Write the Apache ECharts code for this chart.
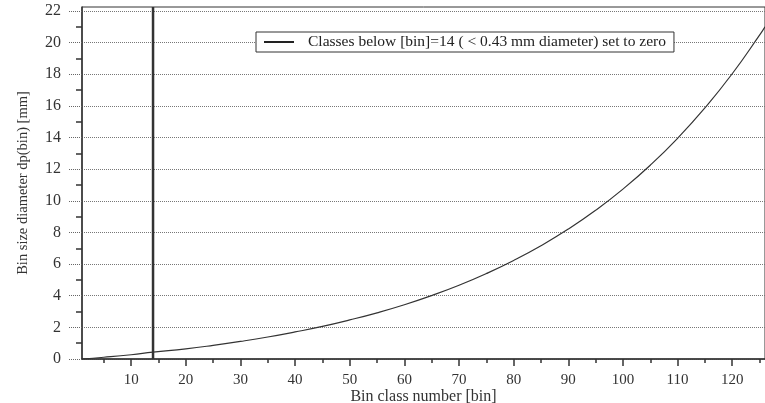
<!DOCTYPE html>
<html>
<head>
<meta charset="utf-8">
<script src="https://cdn.jsdelivr.net/npm/echarts@6/dist/echarts.min.js"></script>
<style>
  html, body { margin: 0; padding: 0; background: #fff; }
  #main { width: 765px; height: 403px; }
</style>
</head>
<body>
<div id="main"></div>
<script>
// bin class number and diameter
const bins = [1, 5, 10, 14, 20, 25, 30, 35, 40, 45, 50, 55, 60, 65, 70, 75, 80, 85, 90, 95, 100, 105, 110, 115, 120, 125, 126]
const diameters = [0.00, 0.11, 0.27, 0.43, 0.64, 0.86, 1.11, 1.39, 1.71, 2.06, 2.47, 2.92, 3.43, 4.01, 4.66, 5.40, 6.23, 7.16, 8.21, 9.40, 10.74, 12.25, 13.95, 15.87, 18.03, 20.47, 21.00]

// cut-off line
const cutoffBin = 14
const cutoffName = 'Classes below [bin]=14 ( < 0.43 mm diameter) set to zero'

// axis ticks
const xTicks = [10, 20, 30, 40, 50, 60, 70, 80, 90, 100, 110, 120]
const xMinorTicks = [5, 15, 25, 35, 45, 55, 65, 75, 85, 95, 105, 115, 125]
const yTicks = [0, 2, 4, 6, 8, 10, 12, 14, 16, 18, 20, 22]
const yMinorTicks = [1, 3, 5, 7, 9, 11, 13, 15, 17, 19, 21]
const xMin = 1, xMax = 126, yMin = 0, yMax = 22.25

const font = 'Liberation Serif'
const chart = echarts.init(document.getElementById('main'))

const curve = bins.map(function (b, i) { return [b, diameters[i]] })

chart.setOption({
  animation: false,
  grid: {
    left: 82, right: 0, top: 7, bottom: 44,
    outerBoundsMode: 'none',
    show: true, borderColor: '#333', borderWidth: 1
  },
  legend: {
    data: [cutoffName],
    left: 256, top: 32,
    padding: [2, 8, 2, 8],
    backgroundColor: '#fff',
    borderColor: '#333', borderWidth: 1,
    icon: 'rect',
    itemWidth: 30, itemHeight: 2,
    textStyle: { fontFamily: font, fontSize: 15.5, color: '#222', padding: [0, 0, 0, 9] }
  },
  xAxis: [{
    type: 'value', min: xMin, max: xMax,
    name: 'Bin class number [bin]', nameLocation: 'middle', nameGap: 30,
    nameMoveOverlap: false,
    nameTextStyle: { fontFamily: font, fontSize: 16, color: '#333' },
    axisLine: { lineStyle: { color: '#333', width: 1.5 } },
    axisTick: { customValues: xTicks, length: 7, lineStyle: { color: '#333', width: 1.5 } },
    axisLabel: { customValues: xTicks, margin: 14, fontFamily: font, fontSize: 15, color: '#333' },
    splitLine: { show: false }
  }, {
    type: 'value', min: xMin, max: xMax, position: 'bottom',
    axisLine: { show: false },
    axisTick: { customValues: xMinorTicks, length: 4, lineStyle: { color: '#333', width: 1.5 } },
    axisLabel: { show: false },
    splitLine: { show: false }
  }],
  yAxis: [{
    type: 'value', min: yMin, max: yMax,
    name: 'Bin size diameter dp(bin) [mm]', nameLocation: 'middle', nameGap: 51,
    nameMoveOverlap: false,
    nameTextStyle: { fontFamily: font, fontSize: 14.5, color: '#333' },
    axisLine: { lineStyle: { color: '#333', width: 1.5 } },
    axisTick: { customValues: yTicks, length: 14, lineStyle: { color: '#666', type: 'dotted' } },
    axisLabel: { customValues: yTicks, margin: 21, fontFamily: font, fontSize: 16, color: '#333' },
    splitLine: { show: true, lineStyle: { color: '#777', type: 'dotted' } }
  }, {
    type: 'value', min: yMin, max: yMax, position: 'left',
    axisLine: { show: false },
    axisTick: { customValues: yMinorTicks, length: 6, lineStyle: { color: '#333', width: 1.5 } },
    axisLabel: { show: false },
    splitLine: { show: false }
  }],
  series: [{
    name: 'dp',
    type: 'line',
    data: curve,
    smooth: true,
    symbol: 'none',
    itemStyle: { color: '#333' },
    lineStyle: { color: '#333', width: 1.2 }
  }, {
    name: cutoffName,
    type: 'line',
    data: [[cutoffBin, yMin], [cutoffBin, yMax]],
    symbol: 'none',
    itemStyle: { color: '#222' },
    lineStyle: { color: '#333', width: 2.5 }
  }]
})
</script>
</body>
</html>
